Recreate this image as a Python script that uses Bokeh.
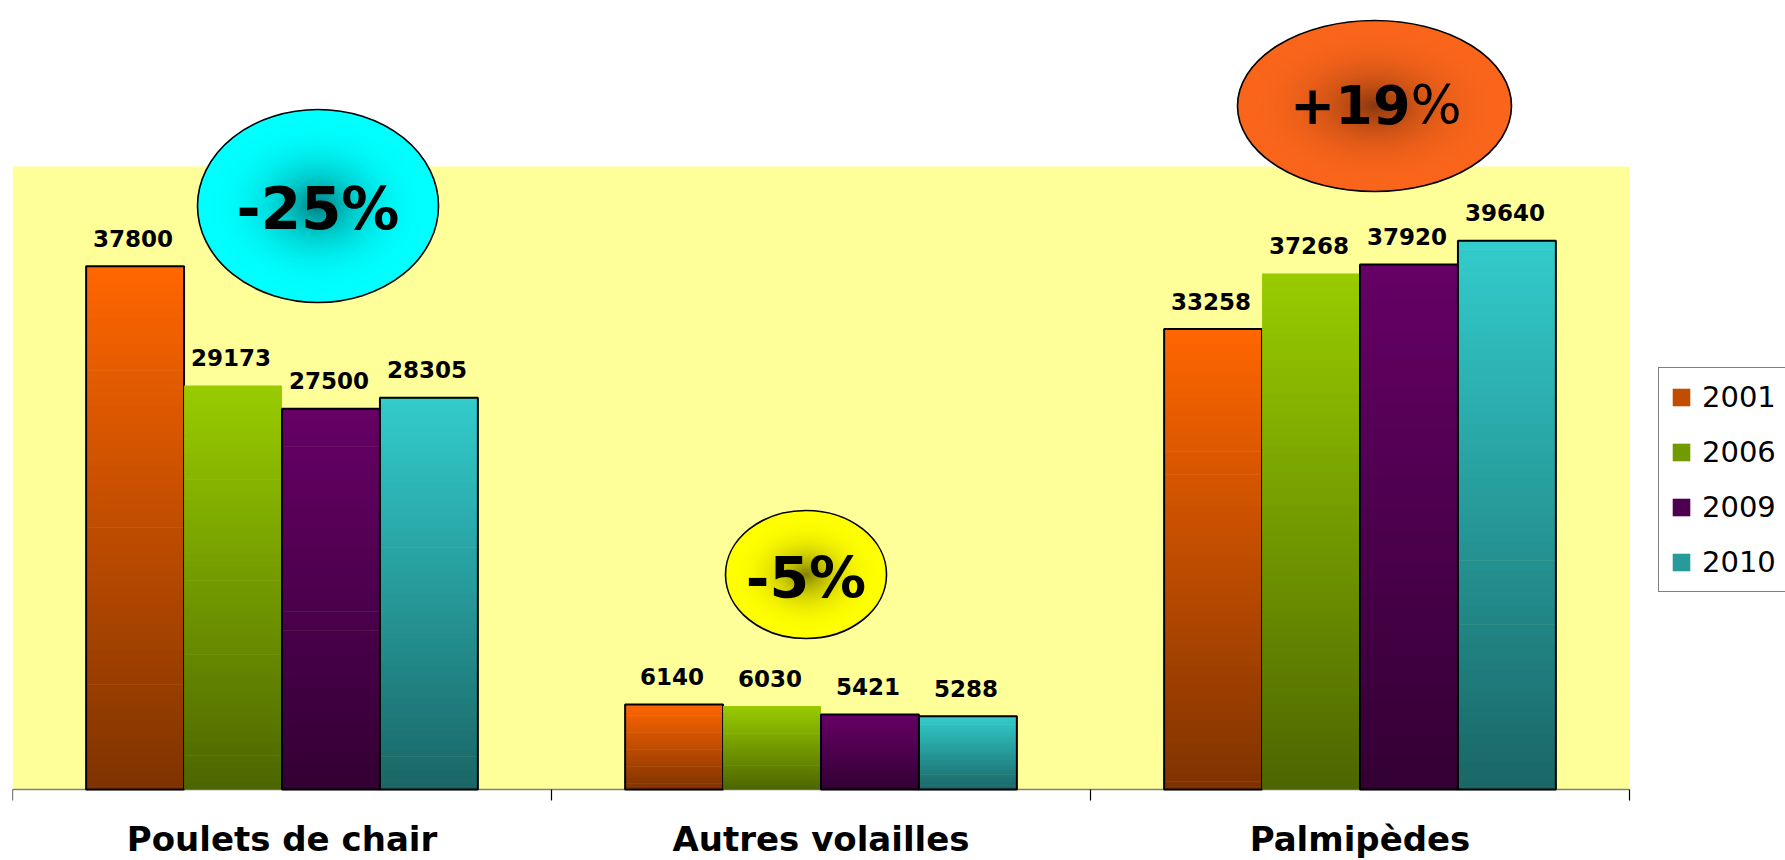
import numpy as np
from bokeh.plotting import figure
from bokeh.models import Range1d, BoxAnnotation, ColumnDataSource, Legend, LegendItem
from bokeh.core.properties import value
from bokeh.embed import file_html
from bokeh.resources import INLINE

# ---------------- data ----------------
categories = ["Poulets de chair", "Autres volailles", "Palmipèdes"]
years = ["2001", "2006", "2009", "2010"]
v2001 = [37800, 6140, 33258]
v2006 = [29173, 6030, 37268]
v2009 = [27500, 5421, 37920]
v2010 = [28305, 5288, 39640]
series = [v2001, v2006, v2009, v2010]

# badges (annotations): label, category index, offset within category, value height
badge_labels = ["-25%", "-5%", "+19%"]
badge_cat = [0, 1, 2]
badge_dx = [0.0668, -0.0278, 0.0269]
badge_y = [42150, 15530, 49370]

# ---------------- styles ----------------
top_colors = ["#FF6600", "#99CC00", "#660066", "#33CCCC"]
bottom_colors = ["#7F3300", "#4C6600", "#330033", "#1A6666"]
outlined = [True, False, True, True]
badge_w = [241, 161, 274]
badge_h = [193, 128, 171]
badge_edge = ["#00FFFF", "#FFFF00", "#F9651B"]
badge_center = ["#007A7C", "#7F7D00", "#86360E"]
badge_size = ["58px", "57px", "54px"]
badge_text_dy = [3, 4, -1]

Y_TOP_PLOT = 45000          # top of the yellow plot area
PLOT_PX = 623               # pixel height of the yellow plot area
PX = PLOT_PX / Y_TOP_PLOT   # pixels per unit
CANVAS_W, CANVAS_H = 1785, 860
AXIS_Y = 789                # canvas row of the value-0 axis
LEFT = 12
PLOT_W = 1617               # pixel width of the 3 categories
FRAME_W = CANVAS_W - LEFT
NCAT = len(categories)
X_END = NCAT * FRAME_W / PLOT_W
Y_START = -(CANVAS_H - AXIS_Y) / PX
Y_END = AXIS_Y / PX
BAR_W = 0.1817
N_SLICES = 60
N_RINGS = 45
OVERLAP = 0.7 / PX
TICK = 11 / PX


def hex2rgb(h):
    h = h.lstrip("#")
    return np.array([int(h[i:i + 2], 16) for i in (0, 2, 4)], dtype=float)


def lerp(c0, c1, t):
    a, b = hex2rgb(c0), hex2rgb(c1)
    c = a + (b - a) * t
    return "#%02x%02x%02x" % tuple(int(round(x)) for x in c)


p = figure(width=CANVAS_W, height=CANVAS_H, x_range=Range1d(0, X_END), y_range=Range1d(Y_START, Y_END),
           output_backend="svg", toolbar_location=None, x_axis_location=None, y_axis_location=None,
           min_border_left=LEFT, min_border_right=0, min_border_top=0, min_border_bottom=0)
p.background_fill_color = "white"
p.border_fill_color = "white"
p.outline_line_color = None
p.xgrid.visible = False
p.ygrid.visible = False

p.add_layout(BoxAnnotation(bottom=0, top=Y_TOP_PLOT, left=0, right=NCAT, fill_color="#FFFF99",
                           fill_alpha=1.0, line_color=None, level="underlay"))

# category axis: baseline, boundary ticks, labels
bounds = list(range(NCAT + 1))
p.segment(x0=[0], y0=[0], x1=[NCAT], y1=[0], line_color="#808080", line_width=1.3)
p.segment(x0=bounds, y0=[0] * len(bounds), x1=bounds, y1=[-TICK] * len(bounds),
          line_color="black", line_width=1.2)
p.text(x=[i + 0.5 for i in range(NCAT)], y=[0] * NCAT, text=categories,
       text_font=value("DejaVu Sans"), text_font_style="bold", text_font_size="34px",
       text_align="center", text_baseline="alphabetic", y_offset=49, text_color="black")

legend_items = []
for j, vals in enumerate(series):
    off = (j - 1.5) * BAR_W
    xs = [i + 0.5 + off for i in range(NCAT)]
    gx, gb, gt, gc = [], [], [], []
    for k in range(N_SLICES):
        t = (k + 0.5) / N_SLICES
        for i, v in enumerate(vals):
            gx.append(xs[i])
            gb.append(v * k / N_SLICES)
            gt.append(min(v, v * (k + 1) / N_SLICES + OVERLAP))
            gc.append(lerp(bottom_colors[j], top_colors[j], t))
    src = ColumnDataSource(dict(x=gx, bottom=gb, top=gt, color=gc))
    r_grad = p.vbar(x="x", bottom="bottom", top="top", width=BAR_W, fill_color="color",
                    line_color=None, source=src)
    rends = [r_grad]
    if outlined[j]:
        r_out = p.vbar(x=xs, bottom=0, top=vals, width=BAR_W, fill_color=None,
                       line_color="black", line_width=2)
        rends.append(r_out)
    legend_items.append(LegendItem(label=years[j], renderers=rends, index=(N_SLICES // 2) * NCAT))
    p.text(x=xs, y=vals, text=[str(v) for v in vals], text_font=value("DejaVu Sans"),
           text_font_style="bold", text_font_size="23px", text_align="center",
           text_baseline="alphabetic", y_offset=-28, x_offset=-2, text_color="black")

# badges with radial shading
for b in range(len(badge_labels)):
    bx = badge_cat[b] + 0.5 + badge_dx[b]
    s = np.linspace(1.0, 1.0 / N_RINGS, N_RINGS)
    g = 1 - (1 - s) ** 2.5
    cols = [lerp(badge_center[b], badge_edge[b], gg) for gg in g]
    p.ellipse(x=[bx] * N_RINGS, y=[badge_y[b]] * N_RINGS,
              width=list(badge_w[b] * s), height=list(badge_h[b] * s),
              width_units="screen", height_units="screen",
              fill_color=cols, line_color=None)
    p.ellipse(x=[bx], y=[badge_y[b]], width=badge_w[b], height=badge_h[b],
              width_units="screen", height_units="screen",
              fill_color=None, line_color="black", line_width=1.6)
    lab = badge_labels[b]
    if lab.startswith("+"):
        p.text(x=[bx], y=[badge_y[b]], text=[lab[:-1]], text_font=value("DejaVu Sans"),
               text_font_style="bold", text_font_size=badge_size[b], text_align="right",
               text_baseline="alphabetic", x_offset=36, y_offset=badge_text_dy[b],
               text_color="black")
        p.text(x=[bx], y=[badge_y[b]], text=[lab[-1:]], text_font=value("DejaVu Sans"),
               text_font_style="normal", text_font_size=badge_size[b], text_align="left",
               text_baseline="alphabetic", x_offset=36, y_offset=badge_text_dy[b],
               text_color="black")
    else:
        p.text(x=[bx], y=[badge_y[b]], text=[lab], text_font=value("DejaVu Sans"),
               text_font_style="bold", text_font_size=badge_size[b], text_align="center",
               text_baseline="alphabetic", y_offset=badge_text_dy[b], text_color="black")

legend = Legend(items=legend_items, location=(1658 - LEFT, CANVAS_H - 592), margin=0, padding=11,
                spacing=19, label_height=36, glyph_height=22, glyph_width=22, label_standoff=10,
                label_text_font="DejaVu Sans", label_text_font_size="29px",
                label_text_color="black",
                border_line_color="black", border_line_width=1,
                background_fill_color="white", background_fill_alpha=1.0)
p.add_layout(legend, "center")

open("out.html", "w").write(file_html(p, INLINE))
